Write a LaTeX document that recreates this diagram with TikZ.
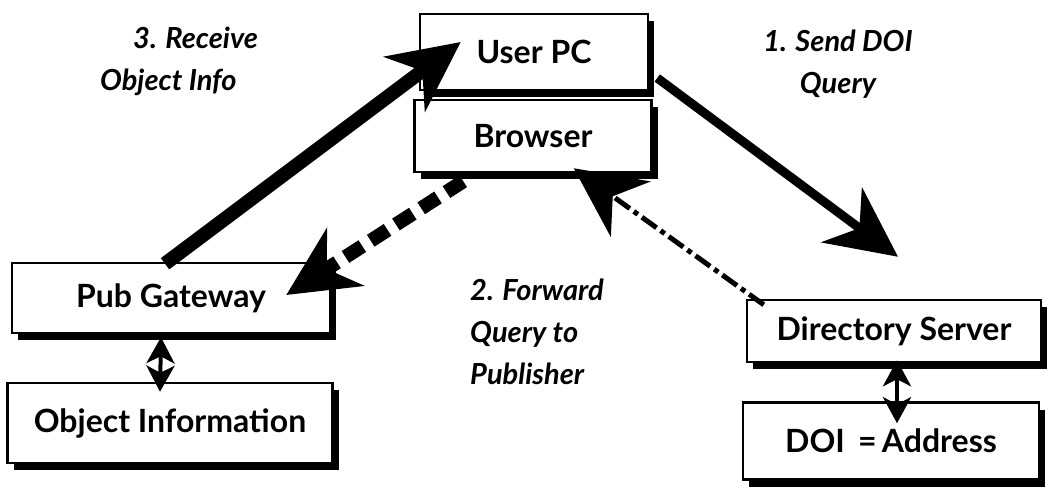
\documentclass[tikz,border=0pt]{standalone}
\usepackage{fontspec}
\setmainfont{Lato}
\usetikzlibrary{arrows.meta,calc,shadows}
\begin{document}
\begin{tikzpicture}[x=1pt,y=-1pt,
  box/.style={draw, line width=2.5pt, fill=white, inner sep=0pt,
    font=\bfseries\fontsize{32}{38}\selectfont,
    drop shadow={shadow xshift=6pt, shadow yshift=-7pt, fill=black, opacity=1}},
  lbl/.style={font=\bfseries\itshape\fontsize{29}{42}\selectfont, inner sep=0pt},
  head/.style={-{Stealth[length=70pt,width=68pt,inset=22pt]}},
  flow/.style={head, line width=14pt},
  send/.style={head, line width=9pt},
  fwd/.style={head, line width=14pt, dash pattern=on 20pt off 10pt},
  reply/.style={head, line width=5pt, dash pattern=on 18pt off 5pt on 5pt off 5pt},
  link/.style={line width=4pt, {Stealth[length=26pt,width=28pt,inset=7pt]}-{Stealth[length=26pt,width=28pt,inset=7pt]}}
]
\useasboundingbox (0,0) rectangle (1050,495);

% boxes
\node[box, minimum width=228pt, minimum height=76pt] (userpc) at (534,52) {User PC};
\node[box, minimum width=237pt, minimum height=72pt] (browser) at (533,136) {Browser};
\node[box, minimum width=318pt, minimum height=70pt] (pub) at (171,298) {Pub Gateway};
\node[box, minimum width=325pt, minimum height=80pt] (obj) at (170,423) {Object Information};
\node[box, minimum width=294pt, minimum height=62pt] (dir) at (894,331) {Directory Server};
\node[box, minimum width=296pt, minimum height=77pt] (doi) at (891,441) {DOI \,=\,Address};

% labels
\node[lbl, align=left, anchor=north west] (l3) at (100,27) {\hspace{33pt}3. Receive\\Object Info};
\node[lbl, align=center, anchor=north] (l1) at (838,30) {1. Send DOI\\Query};
\node[lbl, align=left, anchor=north west] (l2) at (470,279) {2. Forward\\Query to\\Publisher};

% connectors
\draw[send] ($(userpc.east)+(8,26)$) -- ($(dir.north)+(4,-42)$);
\draw[reply] ($(dir.north west)+(18,6)$) -- ($(browser.south east)+(-79,-5)$);
\draw[fwd] ($(browser.south west)+(50,8)$) -- ($(pub.east)+(-45,-3)$);
\draw[flow] ($(pub.north)+(-6,2)$) -- ($(userpc.west)+(42,-10)$);
\draw[link] ($(pub.south)+(-10,3)$) -- ($(obj.north)+(-10,10)$);
\draw[link] ($(dir.south)+(3,-3)$) -- ($(doi.north)+(6,22)$);
\end{tikzpicture}
\end{document}
